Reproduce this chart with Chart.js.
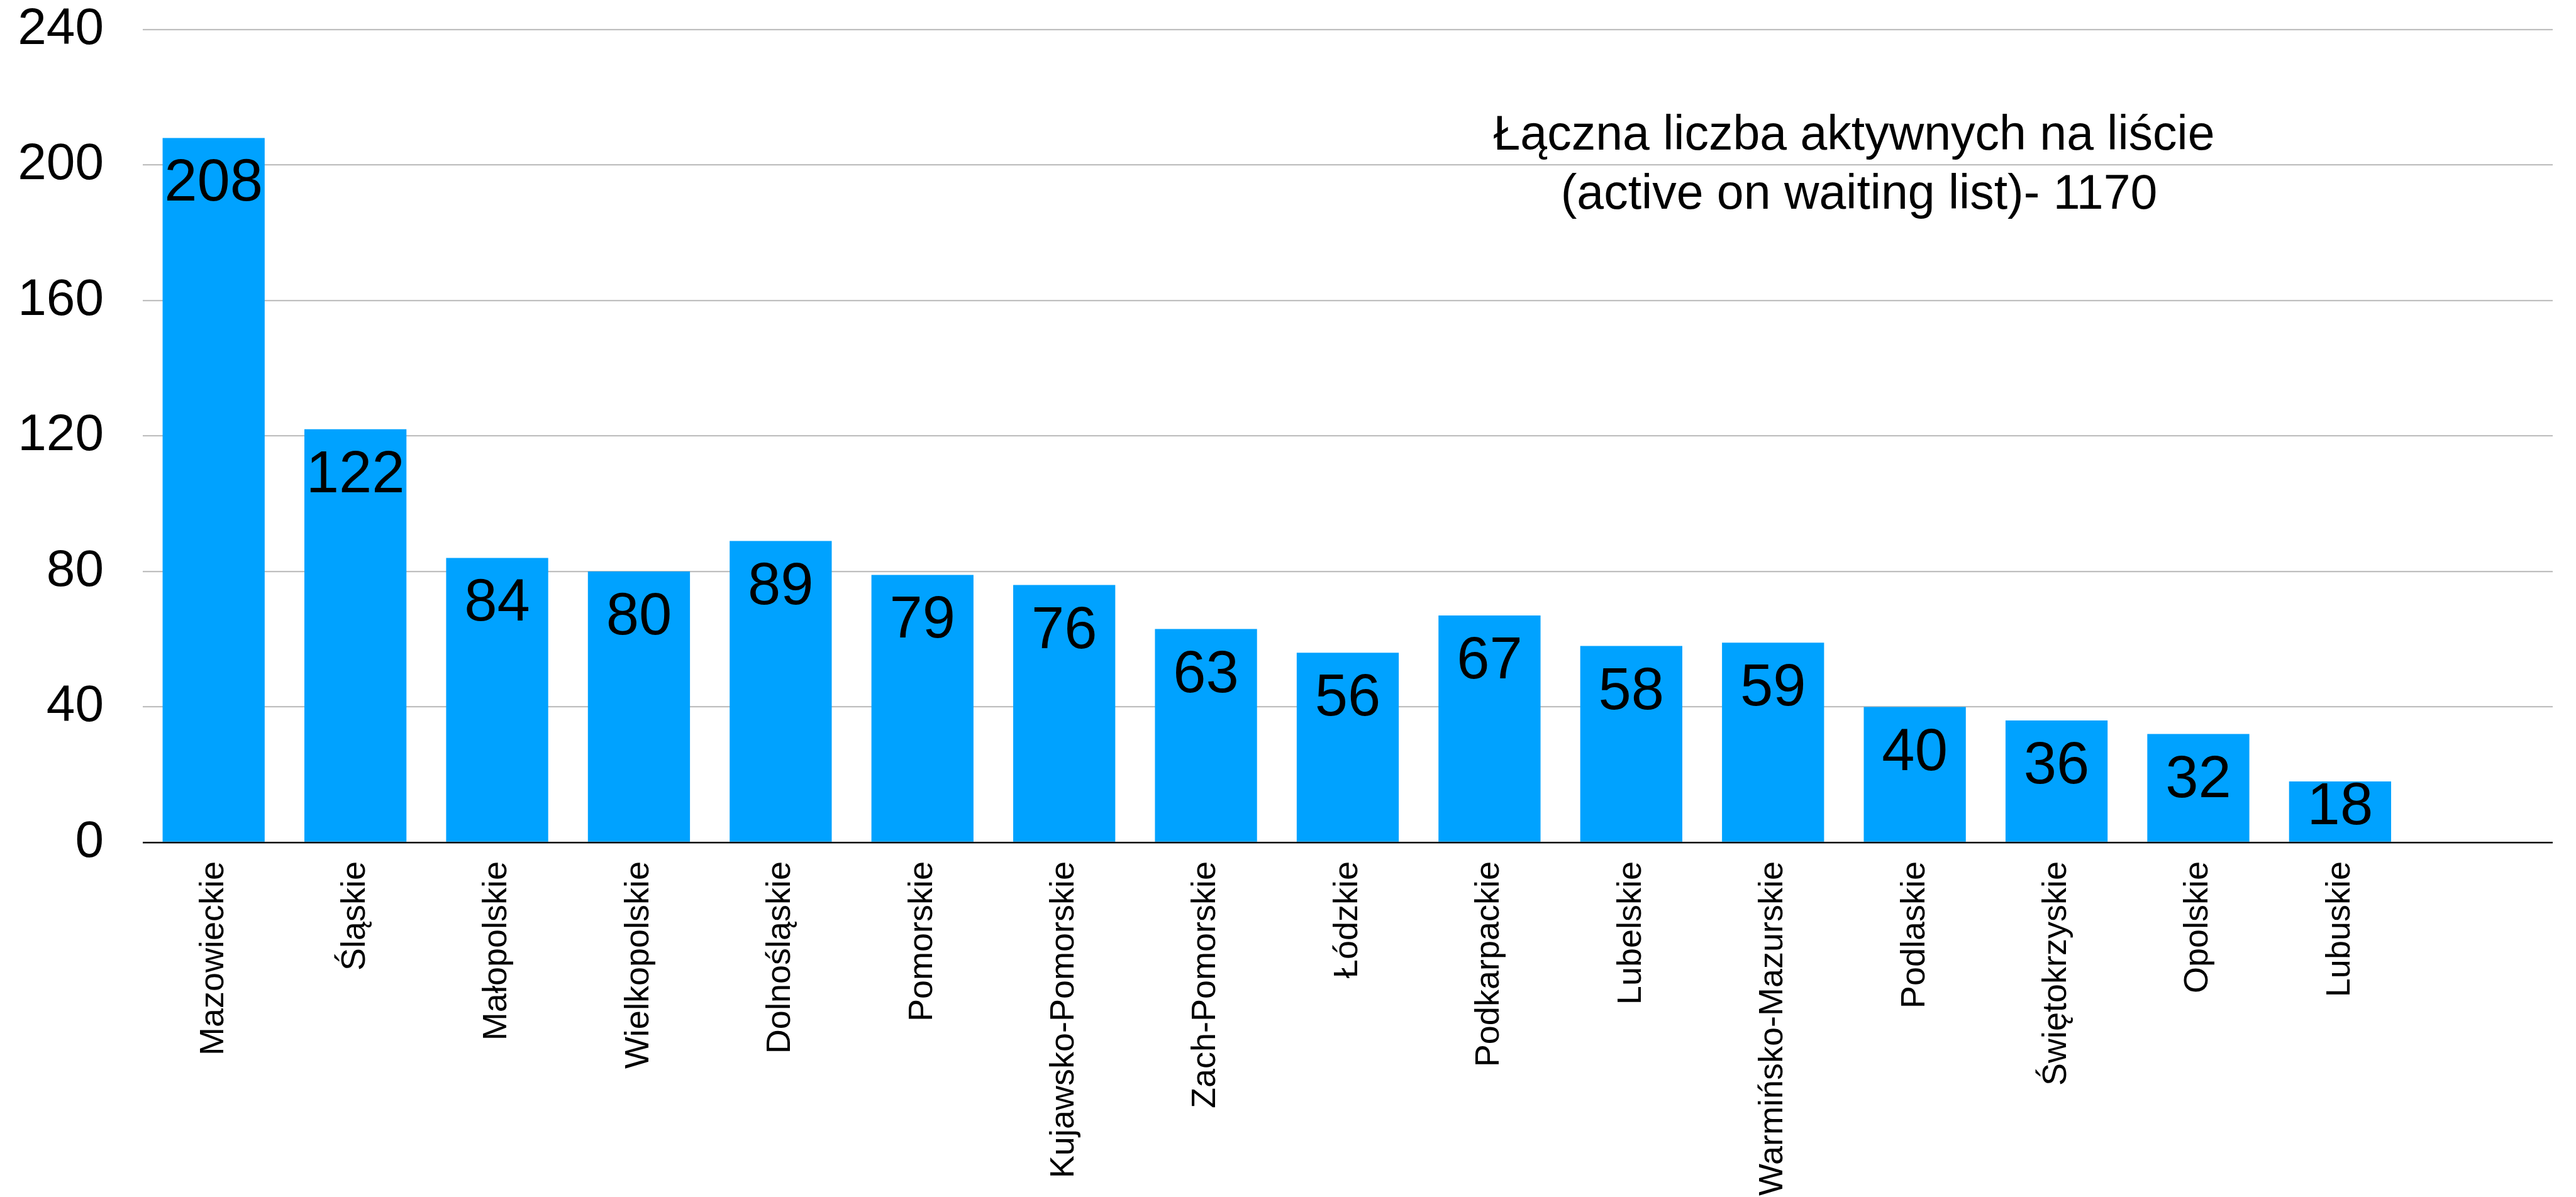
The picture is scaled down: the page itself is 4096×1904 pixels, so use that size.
<!DOCTYPE html>
<html>
<head>
<meta charset="utf-8">
<script src="https://cdn.jsdelivr.net/npm/chart.js@4/dist/chart.umd.min.js"></script>
<style>
  html, body { margin: 0; padding: 0; background: #fff; }
  #wrap { width: 4096px; height: 1904px; position: relative; }
</style>
</head>
<body>
<div id="wrap"><canvas id="chart"></canvas></div>
<script>
// ---- data -----------------------------------------------------------
const regions = [
  "Mazowieckie", "Śląskie", "Małopolskie", "Wielkopolskie", "Dolnośląskie",
  "Pomorskie", "Kujawsko-Pomorskie", "Zach-Pomorskie", "Łódzkie", "Podkarpackie",
  "Lubelskie", "Warmińsko-Mazurskie", "Podlaskie", "Świętokrzyskie", "Opolskie",
  "Lubuskie", ""
];
const activeCounts = [208, 122, 84, 80, 89, 79, 76, 63, 56, 67, 58, 59, 40, 36, 32, 18, null];
const yTicks = [0, 40, 80, 120, 160, 200, 240];
const noteLines = ["Łączna liczba aktywnych na liście", "(active on waiting list)- 1170"];

const FONT = '"Liberation Sans", Arial, sans-serif';

// value labels inside the bar top
const valueLabels = {
  id: "valueLabels",
  afterDatasetsDraw(chart) {
    const ctx = chart.ctx;
    const meta = chart.getDatasetMeta(0);
    ctx.save();
    ctx.font = `94px ${FONT}`;
    ctx.fillStyle = "#000";
    ctx.textAlign = "center";
    ctx.textBaseline = "alphabetic";
    meta.data.forEach((bar, i) => {
      const v = activeCounts[i];
      if (v == null) return;
      const y = Math.min(bar.y + 100, bar.base - 28);
      ctx.fillText(String(v), bar.x, y);
    });
    ctx.restore();
  },
};

// text note in the upper right
const note = {
  id: "note",
  afterDraw(chart) {
    const ctx = chart.ctx;
    ctx.save();
    ctx.font = `77px ${FONT}`;
    ctx.fillStyle = "#000";
    ctx.textAlign = "center";
    ctx.textBaseline = "alphabetic";
    ctx.fillText(noteLines[0], 2948, 238);
    ctx.fillText(noteLines[1], 2956, 332);
    ctx.restore();
  },
};

new Chart(document.getElementById("chart"), {
  type: "bar",
  data: {
    labels: regions,
    datasets: [
      {
        data: activeCounts,
        backgroundColor: "#00a2ff",
        barPercentage: 0.72,
        categoryPercentage: 1.0,
      },
    ],
  },
  options: {
    responsive: true,
    maintainAspectRatio: false,
    animation: false,
    layout: { padding: { left: 0, right: 37, top: 47, bottom: 0 } },
    plugins: { legend: { display: false }, tooltip: { enabled: false } },
    scales: {
      x: {
        grid: { display: false, drawTicks: false },
        border: { display: false },
        ticks: {
          color: "#000",
          font: { family: FONT, size: 54 },
          maxRotation: 90,
          minRotation: 90,
          padding: 30,
          autoSkip: false,
        },
        afterFit: (s) => {
          s.height = 564;
          s.paddingLeft = 0;
          s.paddingRight = 0;
        },
      },
      y: {
        min: 0,
        max: 240,
        afterBuildTicks: (axis) => {
          axis.ticks = yTicks.map((v) => ({ value: v }));
        },
        grid: {
          drawTicks: false,
          color: (c) => (c.tick && c.tick.value === 0 ? "#000" : "#bfbfbf"),
          lineWidth: (c) => (c.tick && c.tick.value === 0 ? 2.6 : 2.2),
        },
        border: { display: false },
        ticks: {
          color: "#000",
          font: { family: FONT, size: 82 },
          padding: 62,
        },
        afterFit: (s) => {
          s.width = 227;
          s.paddingTop = 0;
          s.paddingBottom = 0;
        },
      },
    },
  },
  plugins: [valueLabels, note],
});
</script>
</body>
</html>
